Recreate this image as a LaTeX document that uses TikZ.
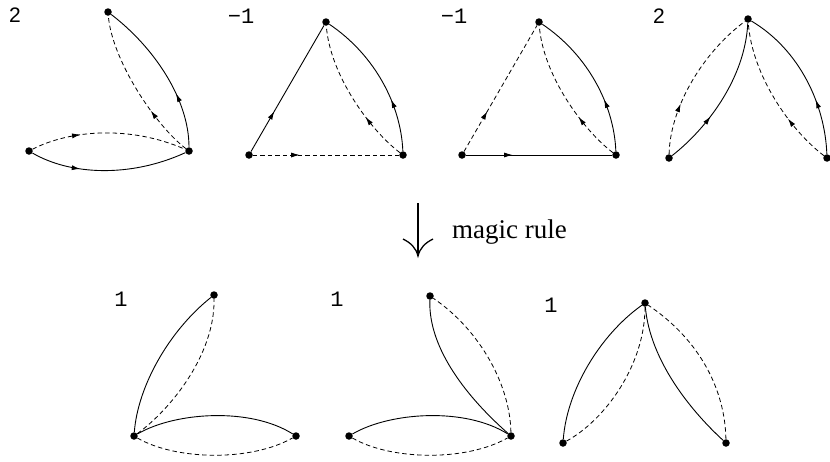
\documentclass[tikz,border=0pt]{standalone}
\usepackage{fontspec}
\setmainfont{Liberation Serif}
\newfontfamily\lblfont{Liberation Mono}
\newfontfamily\twofont{Liberation Sans}
\usetikzlibrary{arrows.meta,decorations.markings}
\tikzset{
  vtx/.style={circle,fill=black,inner sep=0pt,minimum size=7.5pt},
  edge/.style={line width=0.9pt},
  dsh/.style={line width=0.8pt,dash pattern=on 4.5pt off 3pt},
  midarr/.style={postaction={decorate,decoration={markings,mark=at position #1 with {\arrow{Latex[length=8.5pt,width=5pt]}}}}},
  lbl/.style={font=\lblfont\fontsize{22}{22}\selectfont,anchor=center,inner sep=0pt},
  lbltwo/.style={font=\twofont\fontsize{21}{21}\selectfont,anchor=center,inner sep=0pt},
  bigarr/.style={line width=1.3pt},
}
\begin{document}
\begin{tikzpicture}[x=1pt,y=-1pt]
\useasboundingbox (0,0) rectangle (830,461);
% labels
\node[lbltwo] (l1) at (15,15) {2};
\node[lbl] (l2) at (241,16) {−1};
\node[lbl] (l3) at (454,16) {−1};
\node[lbltwo] (l4) at (659,16) {2};
\node[lbl] (l5) at (121,299) {1};
\node[lbl] (l6) at (337,299) {1};
\node[lbl] (l7) at (551,305) {1};
% diagram 1
\node[vtx] (a1) at (108,12) {};
\node[vtx] (b1) at (29,151) {};
\node[vtx] (c1) at (189,151) {};
\draw[edge,midarr=0.32] (b1) .. controls (70,175) and (130,178) .. (c1);
\draw[dsh,midarr=0.32] (b1) .. controls (70,130) and (130,125) .. (c1);
\draw[edge,midarr=0.35] (c1) .. controls (189,100) and (155,48) .. (a1);
\draw[dsh,midarr=0.33] (c1) .. controls (155,125) and (112,60) .. (a1);
% diagram 2
\node[vtx] (a2) at (326,22) {};
\node[vtx] (b2) at (249,155) {};
\node[vtx] (c2) at (403,155) {};
\draw[edge,midarr=0.32] (b2) -- (a2);
\draw[dsh,midarr=0.32] (b2) -- (c2);
\draw[edge,midarr=0.35] (c2) .. controls (401,105) and (375,55) .. (a2);
\draw[dsh,midarr=0.33] (c2) .. controls (370,130) and (330,75) .. (a2);
% diagram 3
\node[vtx] (a3) at (539,22) {};
\node[vtx] (b3) at (462,155) {};
\node[vtx] (c3) at (616,155) {};
\draw[dsh,midarr=0.32] (b3) -- (a3);
\draw[edge,midarr=0.32] (b3) -- (c3);
\draw[edge,midarr=0.35] (c3) .. controls (614,105) and (588,55) .. (a3);
\draw[dsh,midarr=0.33] (c3) .. controls (583,130) and (543,75) .. (a3);
% diagram 4
\node[vtx] (a4) at (748,19) {};
\node[vtx] (b4) at (669,158) {};
\node[vtx] (c4) at (827,158) {};
\draw[dsh,midarr=0.33] (b4) .. controls (670,110) and (700,55) .. (a4);
\draw[edge,midarr=0.35] (b4) .. controls (705,130) and (745,80) .. (a4);
\draw[edge,midarr=0.35] (c4) .. controls (825,105) and (800,50) .. (a4);
\draw[dsh,midarr=0.33] (c4) .. controls (790,130) and (752,75) .. (a4);
% magic rule arrow
\coordinate (ar0) at (418,203);
\coordinate (ar1) at (418,256);
\draw[bigarr] (ar0) -- (ar1);
\draw[bigarr] (403,239) .. controls (411,243) and (416,248) .. (ar1) .. controls (420,248) and (425,243) .. (433,239);
\node[anchor=base west,inner sep=0pt,font=\fontsize{27}{27}\selectfont] (mr) at (452,238) {magic rule};
% diagram 5
\node[vtx] (a5) at (214,295) {};
\node[vtx] (b5) at (134,436) {};
\node[vtx] (c5) at (296,436) {};
\draw[edge] (b5) .. controls (138,385) and (170,330) .. (a5);
\draw[dsh] (b5) .. controls (170,410) and (215,355) .. (a5);
\draw[edge] (b5) .. controls (175,412) and (250,407) .. (c5);
\draw[dsh] (b5) .. controls (175,460) and (250,462) .. (c5);
% diagram 6
\node[vtx] (a6) at (430,296) {};
\node[vtx] (b6) at (349,436) {};
\node[vtx] (c6) at (511,436) {};
\draw[edge] (c6) .. controls (470,400) and (428,350) .. (a6);
\draw[dsh] (c6) .. controls (510,385) and (480,330) .. (a6);
\draw[edge] (b6) .. controls (390,412) and (465,407) .. (c6);
\draw[dsh] (b6) .. controls (390,460) and (465,462) .. (c6);
% diagram 7
\node[vtx] (a7) at (645,303) {};
\node[vtx] (b7) at (563,443) {};
\node[vtx] (c7) at (726,443) {};
\draw[edge] (b7) .. controls (567,390) and (600,335) .. (a7);
\draw[dsh] (b7) .. controls (605,420) and (645,365) .. (a7);
\draw[edge] (c7) .. controls (690,410) and (650,360) .. (a7);
\draw[dsh] (c7) .. controls (725,390) and (700,340) .. (a7);
\end{tikzpicture}
\end{document}
